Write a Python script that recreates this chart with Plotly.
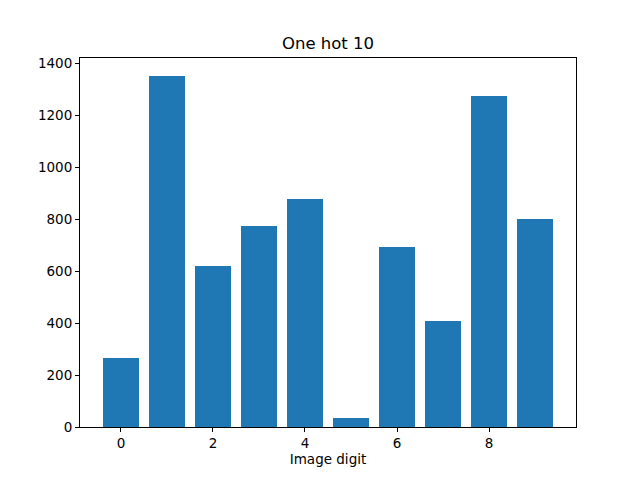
import plotly.graph_objects as go

digits = [0, 1, 2, 3, 4, 5, 6, 7, 8, 9]
counts = [265, 1354, 619, 773, 877, 35, 692, 408, 1277, 800]
x_ticks = [0, 2, 4, 6, 8]
y_ticks = [0, 200, 400, 600, 800, 1000, 1200, 1400]

fig = go.Figure(
    go.Bar(
        x=digits,
        y=counts,
        width=0.8,
        marker=dict(color="#1f77b4", line=dict(width=0)),
    )
)

axis_style = dict(
    showline=True,
    linecolor="black",
    linewidth=1,
    mirror=True,
    ticks="outside",
    ticklen=4,
    tickcolor="black",
    showgrid=False,
    zeroline=False,
    tickfont=dict(size=13.5, color="black"),
)

fig.update_xaxes(
    range=[-0.89, 9.89],
    tickvals=x_ticks,
    title=dict(text="Image digit", font=dict(size=13.5, color="black"), standoff=3),
    **axis_style,
)
fig.update_yaxes(range=[0, 1421.7], tickvals=y_ticks, **axis_style)

# the page body adds an 8px offset, so margins are shifted to compensate
fig.update_layout(
    width=640,
    height=480,
    template="none",
    paper_bgcolor="white",
    plot_bgcolor="white",
    font=dict(family="DejaVu Sans", color="black"),
    title=dict(text="One hot 10", x=0.5, xanchor="center", y=0.927, yanchor="middle",
               font=dict(size=16.5, color="black")),
    margin=dict(l=72, r=72, t=50, b=61),
    showlegend=False,
    bargap=0,
)

fig.write_html("out.html")
